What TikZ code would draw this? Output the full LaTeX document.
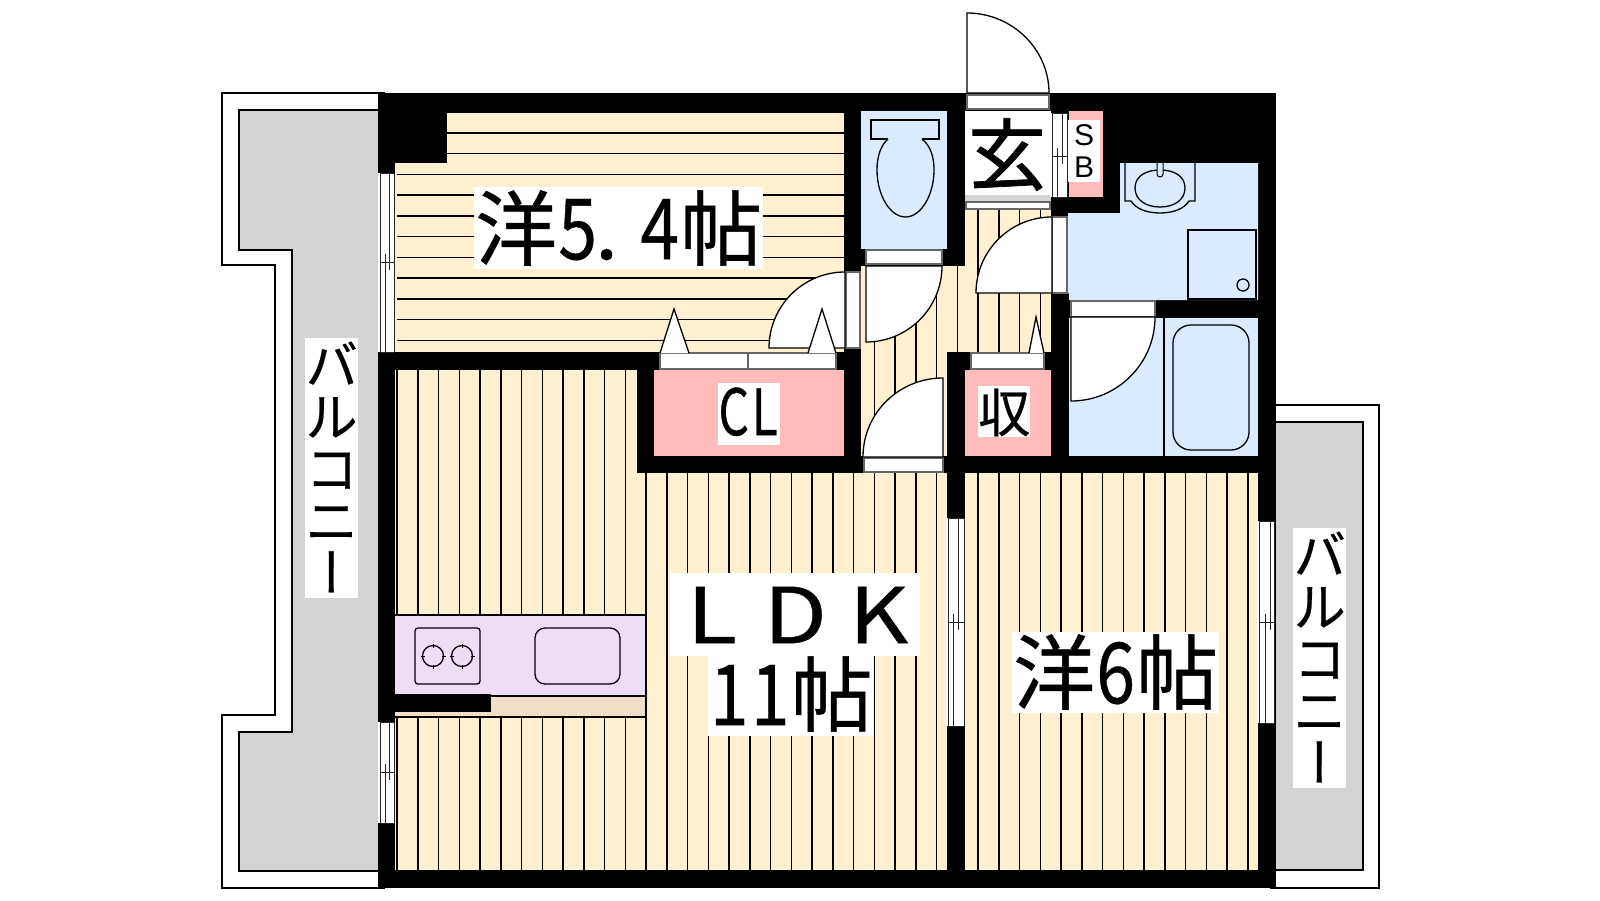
\documentclass[tikz,border=0pt]{standalone}
\usepackage{fontspec}
\newfontfamily\cjk[FakeBold=0.5]{Noto Sans CJK JP}
\newfontfamily\cjkvert[RawFeature={+vert},FakeBold=0.5]{Noto Sans CJK JP}
\newfontfamily\cjkheavy[FakeBold=1]{Noto Sans CJK JP}
\newfontfamily\lsans{Liberation Sans}
\definecolor{floorc}{RGB}{255,240,207}
\definecolor{greyc}{RGB}{211,211,211}
\definecolor{bluec}{RGB}{219,235,255}
\definecolor{pinkc}{RGB}{255,188,188}
\definecolor{purplec}{RGB}{238,221,245}
\definecolor{tanc}{RGB}{240,223,198}
\newcommand{\hc}[1]{\makebox[41pt]{\scalebox{.85}[1.03]{#1}}}
\newcommand{\hdot}{\makebox[41pt][l]{\hspace{-3pt}.}}
\newcommand{\fc}[1]{\makebox[83.3pt]{\scalebox{1.2}[1]{#1}}}
\newcommand{\vc}[1]{\hbox to 53pt{\hss\rule{0pt}{46pt}\rule[-6pt]{0pt}{6pt}#1\hss}}
\newcommand{\vstack}{\vbox{\offinterlineskip\fontsize{52}{52}\selectfont\cjk\vc{バ}\vc{ル}\vc{コ}\vc{ニ}\vc{\cjkvert ー}}}
\tikzset{
  ln/.style={draw=black,line width=1.3pt,line join=miter},
  thin ln/.style={draw=black!85,line width=1pt},
  flr/.style={draw=black,line width=1.5pt},
  whitep/.style={ln,fill=white},
  frameb/.style={fill=white,draw=black!60,line width=1.2pt},
  lab/.style={fill=white,inner sep=0pt,anchor=north west,text=black,font=\fontsize{82}{82}\selectfont\cjk},
}
% window: x0,x1,x2,x3,y0,y1,ymid
\newcommand{\winv}[7]{%
  \fill[white] (#1-2,#5) rectangle (#4+1,#6);
  \draw[thin ln] (#1,#5) -- (#1,#6) (#4,#5) -- (#4,#6) (#1,#5) -- (#4,#5) (#1,#6) -- (#4,#6);
  \draw[thin ln] (#1,#7) -- (#4,#7);
  \draw[thin ln] (#3,#5) -- (#3,#7+8);
  \draw[thin ln] (#2,#7-8) -- (#2,#6);
}
\begin{document}
\begin{tikzpicture}[x=1pt,y=-1pt]
\useasboundingbox (0,0) rectangle (1600,900);
\fill[white] (0,0) rectangle (1600,900);
% balconies
\draw[ln,fill=white] (385,93) -- (222,93) -- (222,265) -- (275,265) -- (275,715) -- (222,715) -- (222,888) -- (385,888);
\draw[ln,fill=greyc] (385,110) -- (239,110) -- (239,250) -- (292,250) -- (292,732) -- (239,732) -- (239,871) -- (385,871);
\draw[ln,fill=white] (1270,405) -- (1379,405) -- (1379,888) -- (1270,888);
\draw[ln,fill=greyc] (1270,422) -- (1363,422) -- (1363,870) -- (1270,870);
% building block
\fill[black] (378,93) rectangle (1276,888);
% floors
\fill[floorc] (447,112) rectangle (844,163);
\fill[floorc] (395,163) rectangle (844,352);
\fill[floorc] (395,370) rectangle (637,473);
\fill[floorc] (395,473) rectangle (947,870);
\fill[floorc] (965,473) rectangle (1258,870);
\fill[floorc] (861,266) rectangle (1051,352);
\fill[floorc] (965,209) rectangle (1051,266);
\fill[floorc] (861,352) rectangle (947,456);
% floor lines
\begin{scope}
\clip (447,110) rectangle (844,163) (395,163) rectangle (844,352);
\foreach \k in {0,...,11} \draw[flr] (397,112+20.75*\k) -- (844,112+20.75*\k);
\end{scope}
\begin{scope}
\clip (395,370) rectangle (637,473) (395,473) rectangle (947,870) (965,473) rectangle (1258,870)
      (861,266) rectangle (947,456) (947,266) rectangle (1051,352) (965,209) rectangle (1051,266);
\foreach \k in {0,...,41} \draw[flr] (397+20.75*\k,200) -- (397+20.75*\k,870);
\end{scope}
% wet rooms
\fill[bluec] (861,111) rectangle (947,249);
\fill[bluec] (1068,213) -- (1120,213) -- (1120,163) -- (1258,163) -- (1258,300) -- (1069,300) -- (1069,293) -- (1068,293) -- cycle;
\fill[bluec] (1069,318) rectangle (1258,456);
\draw[ln] (1164,318) -- (1164,456);
\draw[ln,rounded corners=18pt] (1173,325) rectangle (1249,450);
\draw[ln] (1188,230) rectangle (1256,299);
\draw[ln] (1243,285) circle[radius=6];
% washbasin
\draw[ln] (1125,163) -- (1125,201) -- (1131,201) .. controls (1136,209) and (1147,213) .. (1160,213) .. controls (1173,213) and (1184,209) .. (1189,201) -- (1195,201) -- (1195,163);
\draw[ln] (1135,188) .. controls (1135,176) and (1146,170) .. (1160,170) .. controls (1174,170) and (1185,176) .. (1185,188) .. controls (1185,200) and (1174,207) .. (1160,207) .. controls (1146,207) and (1135,200) .. (1135,188) -- cycle;
\draw[ln,fill=bluec,line width=1pt] (1157,163) -- (1157,174) .. controls (1157,178) and (1163,178) .. (1163,174) -- (1163,163);
% toilet
\draw[ln] (888,139) .. controls (880,146) and (877,158) .. (877,170) .. controls (877,195) and (890,217) .. (905.5,217) .. controls (921,217) and (934,195) .. (934,170) .. controls (934,158) and (931,146) .. (922,139);
\draw[ln] (888,139) -- (871,139) -- (871,120) -- (939,120) -- (939,139) -- (922,139);
% pink stores
\fill[pinkc] (654,370) rectangle (844,456);
\fill[pinkc] (965,370) rectangle (1051,456);
\fill[pinkc] (1069,111) rectangle (1103,197);
% genkan
\fill[white] (965,111) rectangle (1051,200);
\fill[greyc] (965,195) rectangle (1051,201);
% kitchen
\draw[ln,fill=purplec] (395,615) -- (646,615) -- (646,696) -- (395,696);
\draw[ln,fill=tanc] (395,696) -- (646,696) -- (646,717) -- (395,717);
\fill[black] (395,694) rectangle (491,712);
\draw[ln,rounded corners=3pt] (415,628) rectangle (480,684);
\draw[ln,rounded corners=10pt] (535,628) rectangle (620,684);
\foreach \cx in {433,462}{
  \draw[ln] (\cx,656) circle[radius=10.5];
  \draw[line width=.9pt] (\cx-12.5,656) -- (\cx-8.5,656) (\cx+8.5,656) -- (\cx+12.5,656) (\cx,643.5) -- (\cx,647.5) (\cx,664.5) -- (\cx,668.5);
}
% door frames
\draw[frameb] (967,95) rectangle (1049,109);
\draw[frameb] (966,202) rectangle (1050,209);
\draw[frameb] (866,250) rectangle (942,264);
\draw[frameb] (846,272) rectangle (860,348);
\draw[frameb] (1052,217) rectangle (1067,293);
\draw[frameb] (1071,301) rectangle (1155,317);
\draw[frameb] (864,458) rectangle (943,472);
\draw[frameb] (660,353) rectangle (748,369);
\draw[frameb] (748,353) rectangle (836,369);
\draw[frameb] (971,353) rectangle (1044,369);
% door leaves
\draw[whitep] (967,93) -- (967,13) .. controls (1012,13) and (1049,49) .. (1049,93) -- cycle;
\draw[whitep] (866,266) -- (942,266) .. controls (942,308) and (908,342) .. (866,342) -- cycle;
\draw[whitep] (845,348) -- (769,348) .. controls (769,306) and (803,272) .. (845,272) -- cycle;
\draw[whitep] (1052,293) -- (976,293) .. controls (976,251) and (1010,217) .. (1052,217) -- cycle;
\draw[whitep] (1071,317) -- (1155,317) .. controls (1155,363.4) and (1117.4,401) .. (1071,401) -- cycle;
\draw[whitep] (943,457) -- (863,457) .. controls (863,413) and (899,378) .. (943,378) -- cycle;
% folding door triangles
\draw[whitep] (660,353) -- (674,309) -- (689,353);
\draw[whitep] (808,353) -- (822,309) -- (836,353);
\draw[whitep] (1029,353) -- (1036,317) -- (1044,353);
% windows
\winv{380}{385}{389}{394}{173}{352}{262}
\winv{380}{385}{389}{394}{722}{823}{772}
\winv{948}{953}{958}{964}{518}{726}{622}
\winv{1259}{1265}{1270}{1274}{521}{723}{622}
\winv{1052}{1057}{1062}{1067}{113}{197}{156}
% labels
\node[lab,minimum width=289pt,minimum height=82pt,text height=72pt,text depth=10pt] (room1) at (474,187) {\makebox[289pt]{洋\hc{5}\hdot\hc{4}帖}};
\node[lab,minimum width=250pt,minimum height=83pt,text height=70pt,text depth=13pt,font=\fontsize{77}{77}\selectfont\cjk] (ldk) at (670,573) {\makebox[250pt]{\fc{L}\fc{D}\fc{K}}};
\node[lab,minimum width=165pt,minimum height=80pt,text height=69pt,text depth=11pt] (ldk2) at (708,656) {\makebox[165pt]{\hc{1}\hc{1}帖}};
\node[lab,minimum width=207pt,minimum height=81pt,text height=71pt,text depth=10pt] (room2) at (1012,632) {\makebox[207pt]{洋\hc{6}帖}};
\node[lab,minimum width=62pt,minimum height=62pt,text height=52pt,text depth=10pt,font=\fontsize{64}{64}\selectfont\cjk] (cl) at (718,383) {\makebox[62pt]{\makebox[31pt]{\scalebox{.75}[1]{C}}\makebox[31pt]{\scalebox{.75}[1]{L}}}};
\node[lab,minimum width=52pt,minimum height=51pt,text height=46pt,text depth=5pt,font=\fontsize{52}{52}\selectfont\cjk] (store) at (978,386) {\makebox[52pt]{収}};
\node[inner sep=0pt,anchor=base,text=black,font=\fontsize{78}{78}\selectfont\cjkheavy] (genkan) at (1007,184) {玄};
\node[lab,minimum width=32pt,minimum height=62pt,align=center,font=\fontsize{30}{32}\selectfont\lsans,text width=32pt] (sb) at (1068,120) {S\\B};
\node[lab] (bal1) at (305,338) {\vstack};
\node[lab] (bal2) at (1293,528) {\vstack};
\end{tikzpicture}
\end{document}
